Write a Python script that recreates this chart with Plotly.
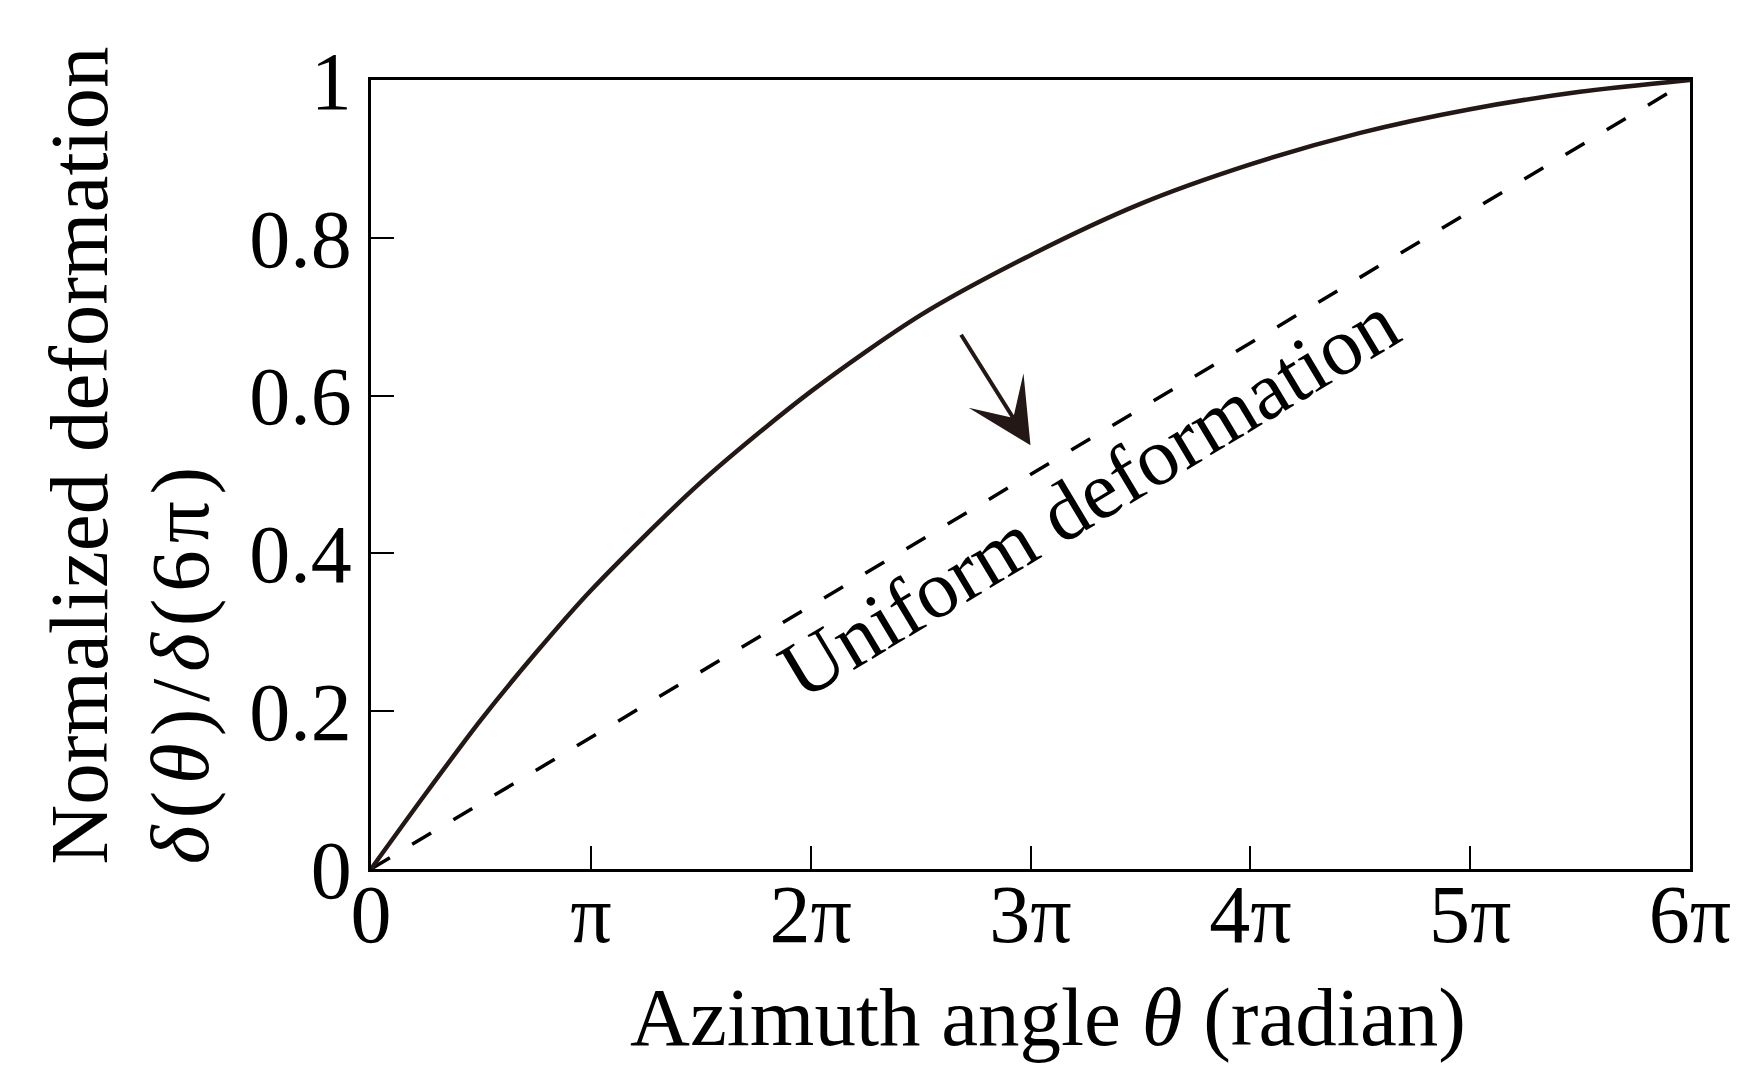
import plotly.graph_objects as go

# azimuth angle in units of pi, normalized deformation
theta_pi = [0, 0.25, 0.5, 0.75, 1.0, 1.5, 2.0, 2.5, 3.0, 3.5, 4.0, 4.5, 5.0, 5.5, 6.0]
deform = [0, 0.096, 0.189, 0.274, 0.353, 0.490, 0.605, 0.702, 0.778, 0.843, 0.893, 0.933, 0.963, 0.985, 1.0]

# uniform deformation reference line
uniform_theta_pi = [0, 6]
uniform_deform = [0, 1]

x_tickvals = [0, 1, 2, 3, 4, 5, 6]
x_ticktext = ["0", "π", "2π", "3π", "4π", "5π", "6π"]
y_tickvals = [0, 0.2, 0.4, 0.6, 0.8, 1]
y_ticktext = ["0", "0.2", "0.4", "0.6", "0.8", "1"]

FONT = "Liberation Serif, Times New Roman, serif"
INK = "#231815"
HS = "\u200a"  # hair space, the printed ratio label is loosely set

fig = go.Figure()

fig.add_trace(go.Scatter(
    x=uniform_theta_pi, y=uniform_deform,
    mode="lines",
    line=dict(color="black", width=3.5, dash="22px,26px"),
    showlegend=False,
))

fig.add_trace(go.Scatter(
    x=theta_pi, y=deform,
    mode="lines",
    line=dict(color=INK, width=4.5, shape="spline", smoothing=0.8),
    showlegend=False,
))

# arrow pointing to the uniform line
fig.add_annotation(
    x=3.0, y=0.537, ax=2.68, ay=0.679,
    xref="x", yref="y", axref="x", ayref="y",
    showarrow=True, arrowhead=3, arrowsize=2.7, arrowwidth=4,
    arrowcolor=INK, text="",
)

fig.add_annotation(
    x=3.267, y=0.472, xref="x", yref="y",
    text="Uniform deformation", showarrow=False,
    textangle=-31,
    font=dict(family=FONT, size=82, color="black"),
)

# two-line y title, both lines start at the bottom
fig.add_annotation(
    x=0, y=0.003, xref="paper", yref="paper",
    xshift=-292, xanchor="center", yanchor="bottom",
    text="Normalized deformation", showarrow=False, textangle=-90,
    font=dict(family=FONT, size=83, color="black"),
)
ratio_label = HS.join(["<i>δ</i>", "(", "<i>θ</i>", ")", "/", "<i>δ</i>", "(", "6", "π", ")"])
fig.add_annotation(
    x=0, y=0.003, xref="paper", yref="paper",
    xshift=-191, xanchor="center", yanchor="bottom",
    text=ratio_label, showarrow=False, textangle=-90,
    font=dict(family=FONT, size=83, color="black"),
)

# x title as an annotation, it sits a little right of the plot centre
fig.add_annotation(
    x=0.5, y=0, xref="paper", yref="paper",
    xshift=17, yshift=-196, xanchor="center", yanchor="bottom",
    text="Azimuth angle <i>θ</i> (radian)", showarrow=False,
    font=dict(family=FONT, size=83, color="black"),
)

fig.update_layout(
    width=1756, height=1073,
    margin=dict(l=363, r=74, t=72, b=212),
    plot_bgcolor="white", paper_bgcolor="white",
    font=dict(family=FONT, size=82, color="black"),
    xaxis=dict(
        range=[0, 6], tickvals=x_tickvals, ticktext=x_ticktext,
        showgrid=False, zeroline=False,
        showline=True, linecolor="black", linewidth=2.5, mirror=True,
        ticks="inside", ticklen=23, tickwidth=2, tickcolor="black",
        ticklabelstandoff=-28,
    ),
    yaxis=dict(
        range=[0, 1], tickvals=y_tickvals, ticktext=y_ticktext,
        showgrid=False, zeroline=False,
        showline=True, linecolor="black", linewidth=2.5, mirror=True,
        ticks="inside", ticklen=23, tickwidth=2, tickcolor="black",
        ticklabelstandoff=0,
    ),
)

fig.write_html("out.html")
